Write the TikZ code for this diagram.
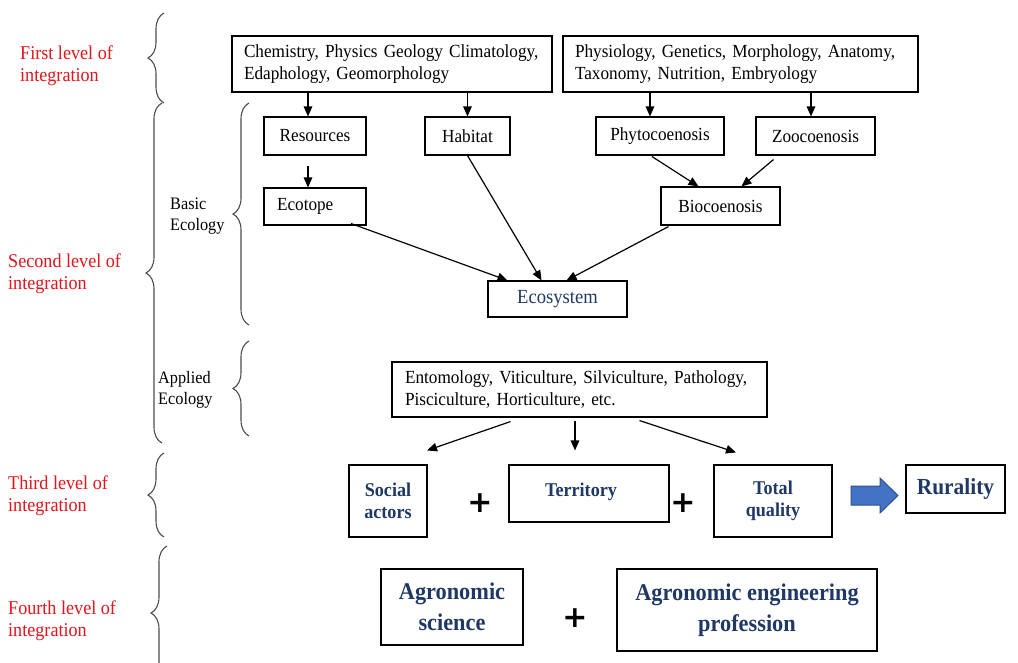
\documentclass[tikz,border=0pt]{standalone}
\usepackage{fontspec}
\setmainfont{Liberation Serif}[FakeStretch=0.93]
\newfontfamily\plusfont{DejaVu Sans}
\usetikzlibrary{arrows.meta,decorations.pathreplacing,calc}
\definecolor{navy}{HTML}{1F3864}
\definecolor{lvlred}{HTML}{E3141B}
\definecolor{bracegray}{HTML}{4D4D4D}
\definecolor{arrowblue}{HTML}{4472C4}
\definecolor{arrowedge}{HTML}{2F528F}
\begin{document}
\begin{tikzpicture}[x=1pt,y=-1pt,
  box/.style={draw=black,line width=1.1pt,inner sep=0pt,font=\fontsize{18.5}{21.5}\selectfont},
  lbox/.style={box,align=left,inner xsep=12pt},
  nbox/.style={box,text=navy,align=center,font=\bfseries\fontsize{19.5}{22}\selectfont},
  bigbox/.style={box,text=navy,align=center,font=\bfseries\fontsize{24}{31}\selectfont},
  lvl/.style={text=lvlred,align=left,anchor=west,inner sep=0pt,font=\fontsize{19.5}{22}\selectfont},
  eco/.style={text=black,align=left,anchor=west,inner sep=0pt,font=\fontsize{17.5}{21}\selectfont},
  brc/.style={draw=bracegray,line width=1.1pt,decorate,decoration={brace,amplitude=16pt}},
  arr/.style={draw=black,line width=1.2pt,-{Triangle[length=10pt,width=8.5pt]}},
  plus/.style={inner sep=0pt,font=\plusfont\bfseries\fontsize{30}{30}\selectfont}
]
\useasboundingbox (0,0) rectangle (1018,662);
\fill[white] (0,0) rectangle (1018,662);

% level labels
\node[lvl] (l1) at (20,66) {First level of\\integration};
\node[lvl] (l2) at (8,274) {Second level of\\integration};
\node[lvl] (l3) at (8,496) {Third level of\\integration};
\node[lvl] (l4) at (8,621) {Fourth level of\\integration};
\node[eco] (be) at (170,216) {Basic\\Ecology};
\node[eco] (ae) at (158,390) {Applied\\Ecology};

% braces
\begin{scope}
\clip (0,0) rectangle (1018,662);
\draw[brc] (164,103) -- (164,13);
\draw[brc] (162,443) -- (162,103);
\draw[brc] (249,325) -- (249,103);
\draw[brc] (249,436) -- (249,341);
\draw[brc] (164,537) -- (164,453);
\draw[brc] (167,680) -- (167,546);
\end{scope}

% top boxes
\node[lbox,text width=296pt,minimum height=56pt] (A) at (392,64)
  {Chemistry, Physics Geology Climatology,\\Edaphology, Geomorphology};
\node[lbox,text width=331pt,minimum height=56pt] (B) at (740.5,64)
  {Physiology, Genetics, Morphology, Anatomy,\\Taxonomy, Nutrition, Embryology};

\node[box,minimum width=102pt,minimum height=38pt] (res) at (315,136) {Resources};
\node[box,minimum width=85pt,minimum height=38pt] (hab) at (467.5,136) {Habitat};
\node[box,minimum width=128pt,minimum height=38pt] (phy) at (660,136) {Phytocoenosis};
\node[box,minimum width=119pt,minimum height=38pt] (zoo) at (815.5,136) {Zoocoenosis};
\node[lbox,inner xsep=13pt,text width=76pt,minimum height=37pt] (eco) at (315,206.5) {Ecotope};
\node[box,minimum width=119pt,minimum height=38pt] (bio) at (720.5,206) {Biocoenosis};
\node[box,text=navy,font=\fontsize{20}{22}\selectfont,minimum width=139pt,minimum height=36pt] (sys) at (557.5,299) {Ecosystem};

\node[lbox,inner xsep=13pt,text width=349pt,minimum height=55pt] (app) at (579.5,389.5)
  {Entomology, Viticulture, Silviculture, Pathology,\\Pisciculture, Horticulture, etc.};

% third level
\node[nbox,minimum width=78pt,minimum height=72pt] (soc) at (388,501) {Social\\actors};
\node[nbox,minimum width=160pt,minimum height=57pt] (ter) at (589,493.5) {\raisebox{7pt}{Territory}\hspace*{16pt}};
\node[nbox,minimum width=118pt,minimum height=72pt] (tot) at (773,501) {Total\\quality};
\node[nbox,font=\bfseries\fontsize{23}{26}\selectfont,minimum width=99pt,minimum height=48pt] (rur) at (955.5,489) {Rurality};
\node[plus] (p1) at (480,503) {+};
\node[plus] (p2) at (683,503) {+};
\draw[fill=arrowblue,draw=arrowedge,line width=1pt,line join=miter]
  (851,486) -- (880,486) -- (880,478) -- (898,495.5) -- (880,513) -- (880,505) -- (851,505) -- cycle;

% fourth level
\node[bigbox,minimum width=142pt,minimum height=76pt] (as) at (452,607) {Agronomic\\science};
\node[plus] (p3) at (575,618) {+};
\node[bigbox,minimum width=260pt,minimum height=82pt] (ae2) at (747,610) {Agronomic engineering\\profession};

% connectors
\coordinate (r1) at ($(res.north)+(-7,0)$);
\draw[arr] (r1 |- A.south) -- (r1);
\draw[arr] (hab.north |- A.south) -- (hab.north);
\coordinate (ph1) at ($(phy.north)+(-10,0)$);
\draw[arr] (ph1 |- B.south) -- (ph1);
\coordinate (z1) at ($(zoo.north)+(-4.5,0)$);
\draw[arr] (z1 |- B.south) -- (z1);
\draw[arr] ($(res.south)+(-7,10)$) -- ($(eco.north)+(-7,0)$);
\draw[arr] ($(eco.south)+(36,-2)$) -- ($(sys.north)+(-50,0)$);
\draw[arr] (hab.south) -- ($(sys.north)+(-16,0)$);
\draw[arr] ($(bio.south)+(-52,1)$) -- ($(sys.north)+(9,0)$);
\draw[arr] ($(phy.south)+(-8,1)$) -- ($(bio.north)+(-22,0)$);
\draw[arr] ($(zoo.south)+(-42,4)$) -- ($(bio.north)+(21,0)$);
\draw[arr] ($(app.south)+(-69,4)$) -- ($(soc.north)+(39,-14)$);
\draw[arr] ($(app.south)+(-4.5,3)$) -- ($(ter.north)+(-14,-14)$);
\draw[arr] ($(app.south)+(60,3)$) -- ($(tot.north)+(-37,-12)$);
\end{tikzpicture}
\end{document}
